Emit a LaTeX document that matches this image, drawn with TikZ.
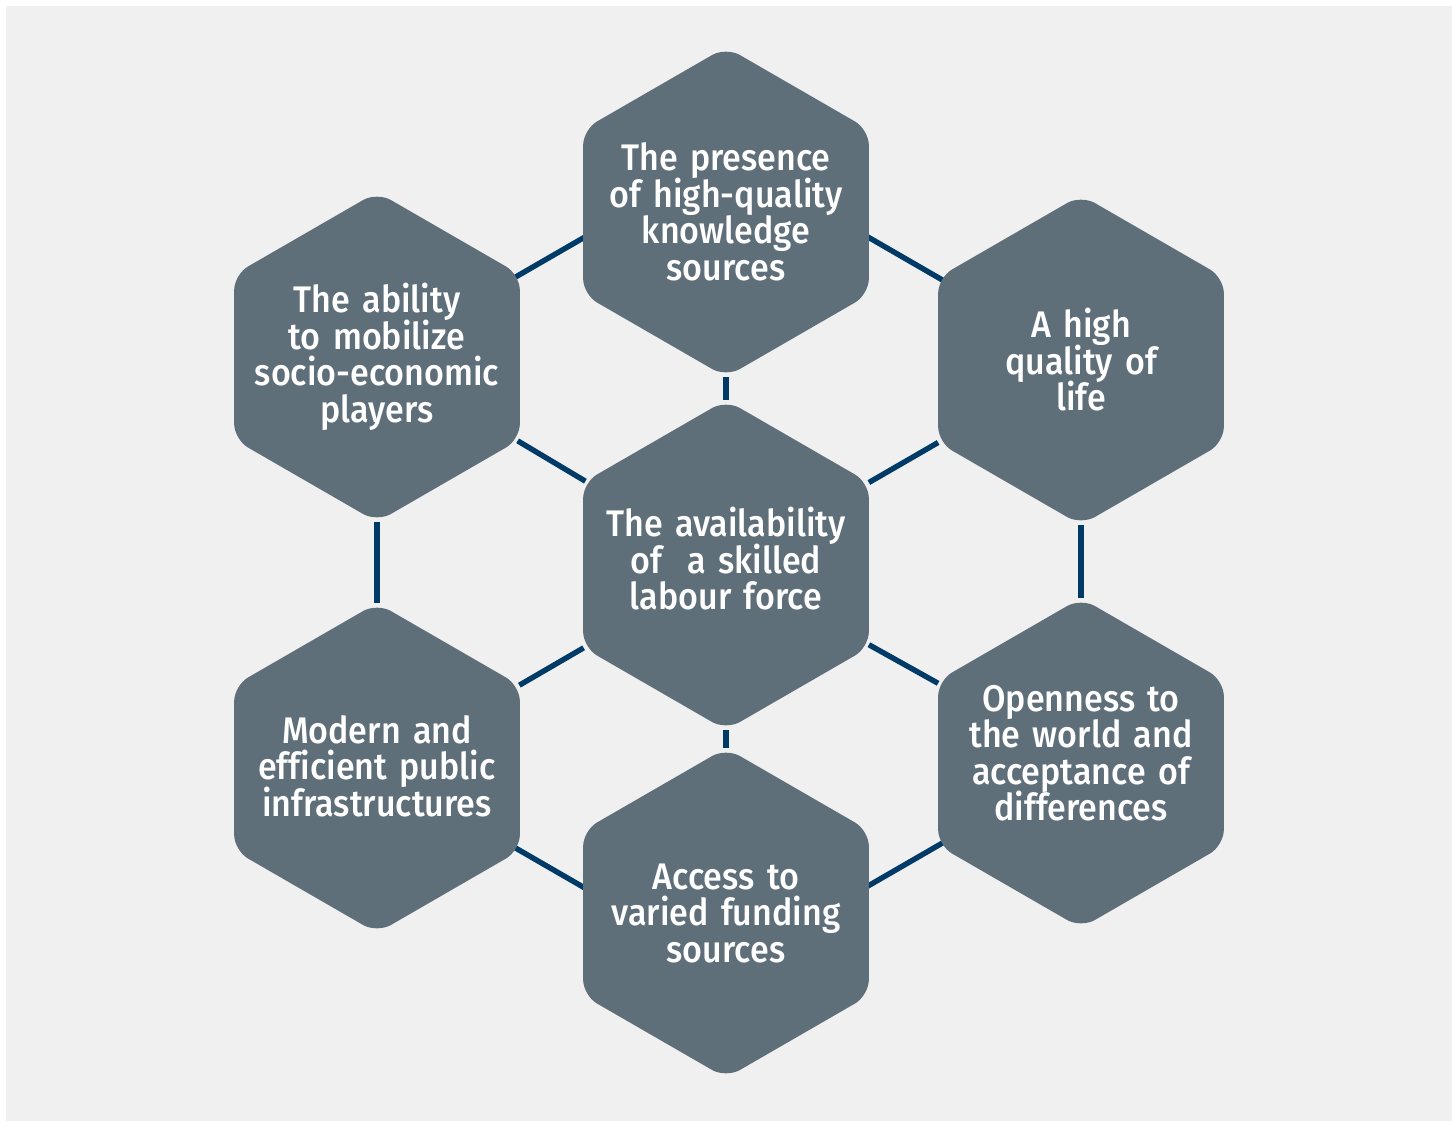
\documentclass[tikz,border=0pt]{standalone}
\usepackage{fontspec}
\IfFontExistsTF{Fira Sans Medium}
  {\newfontfamily\hexfont{Fira Sans Medium}[FakeStretch=0.92,WordSpace=0.8,Ligatures=NoCommon]}
  {\newfontfamily\hexfont{Fira Sans SemiBold}[FakeStretch=0.92,WordSpace=0.8,Ligatures=NoCommon]}
\usetikzlibrary{shapes.geometric,backgrounds}
\definecolor{bggray}{HTML}{F0F0F0}
\definecolor{hexfill}{HTML}{5F6F79}
\definecolor{linknavy}{HTML}{003A66}
\begin{document}
\begin{tikzpicture}[x=0.5pt,y=-0.5pt,
  hexbox/.style={regular polygon, regular polygon sides=6, shape border rotate=30,
    minimum size=165pt, inner sep=0pt, outer sep=0pt, fill=hexfill, rounded corners=8pt},
  hextext/.style={text=white, align=center, text width=150pt, inner sep=0pt,
    font=\hexfont\fontsize{18.5pt}{18.25pt}\selectfont,
    execute at begin node={\setlength{\lineskiplimit}{-20pt}}},
  link/.style={draw=linknavy, line width=2.7pt}]
\useasboundingbox (0,0) rectangle (1452,1121);
\node[hexbox, label={[hextext]center:The presence\\of high-quality\\knowledge\\sources}] (top) at (726,212) {};
\node[hexbox, label={[hextext, yshift=3pt]center:The availability\\of\ \ a skilled\\labour force}] (mid) at (726,565) {};
\node[hexbox, label={[hextext]center:Access to\\varied funding\\sources}] (bot) at (726,913) {};
\node[hexbox, label={[hextext]center:The ability\\to mobilize\\socio-economic\\players}] (ul) at (377,357) {};
\node[hexbox, label={[hextext, yshift=1pt]center:Modern and\\efficient public\\infrastructures}] (ll) at (377,768) {};
\node[hexbox, label={[hextext]center:A high\\quality of\\life}] (ur) at (1081,360) {};
\node[hexbox, label={[hextext, yshift=5pt]center:Openness to\\the world and\\acceptance of\\differences}] (lr) at (1081,763) {};
\begin{scope}[on background layer]
  \fill[white] (0,0) rectangle (1452,1121);
  \fill[bggray] (6,6) rectangle (1452,1121);
  \draw[link] (top) -- (mid);
  \draw[link] (mid) -- (bot);
  \draw[link] (ul) -- (ll);
  \draw[link] (ur) -- (lr);
  \draw[link] (ul) -- (mid);
  \draw[link] (ur) -- (mid);
  \draw[link] (ll) -- (mid);
  \draw[link] (lr) -- (mid);
  \draw[link] (ul.center) -- (intersection of ul.center--ul.30 and top.center--top.south);
  \draw[link] (ur.center) -- (intersection of ur.center--ur.150 and top.center--top.south);
  \draw[link] (ll.center) -- (intersection of ll.center--ll.330 and bot.center--bot.north);
  \draw[link] (lr.center) -- (intersection of lr.center--lr.210 and bot.center--bot.north);
\end{scope}
\end{tikzpicture}
\end{document}
